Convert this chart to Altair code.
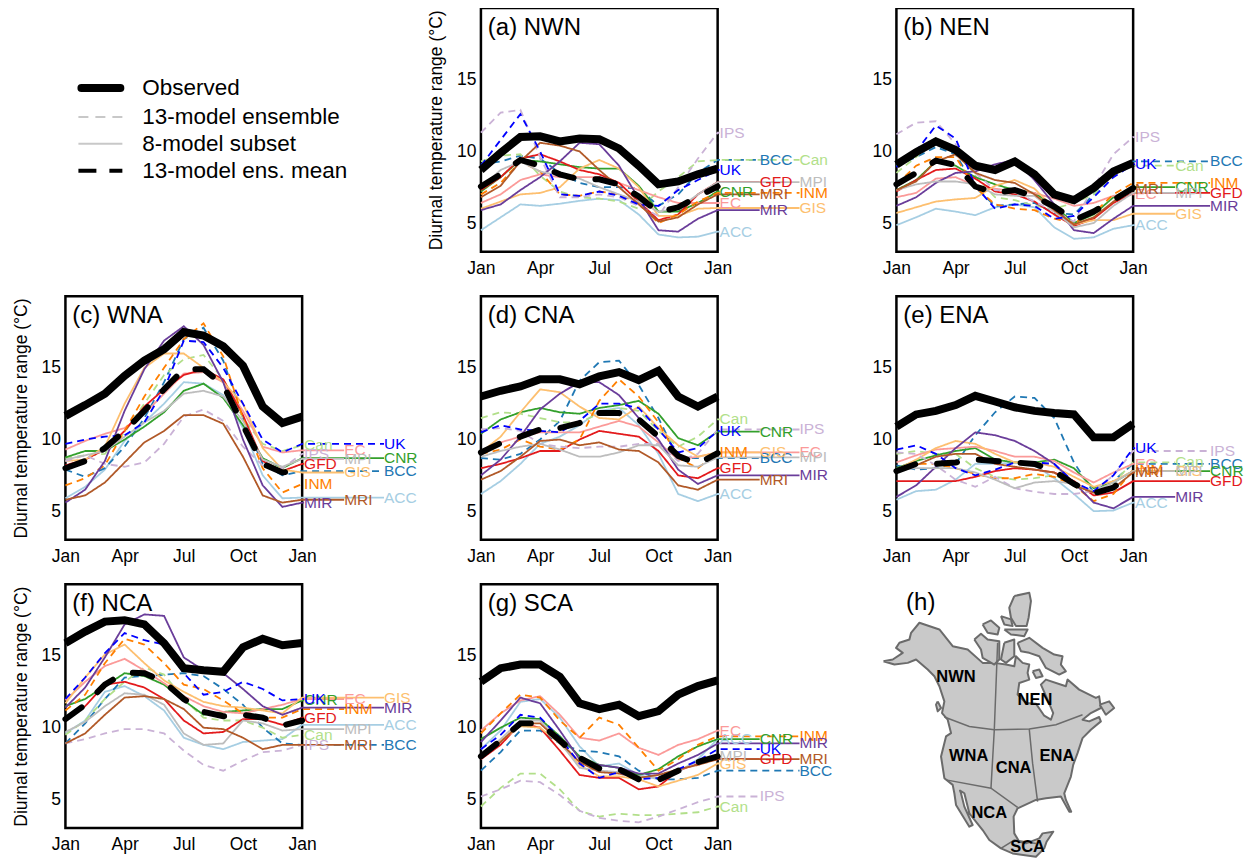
import altair as alt
import pandas as pd

MONTHS = list(range(1, 14))
MODELS = ["ACC", "BCC", "Can", "CNR", "EC", "GFD", "GIS", "INM", "IPS", "MIR", "MPI", "MRI", "UK"]
COLORS = ["#a6cee3", "#1f78b4", "#b2df8a", "#33a02c", "#fb9a99", "#e31a1c", "#fdbf6f", "#ff7f00", "#cab2d6", "#6a3d9a", "#bdbdbd", "#b15928", "#0000ff"]
DASHED = ["BCC", "Can", "INM", "IPS", "UK"]

OBS_A = [8.7, 9.9, 11.0, 11.05, 10.7, 10.9, 10.85, 10.2, 9.0, 7.7, 7.9, 8.4, 8.8]
MEAN_A = [7.55, 8.4, 9.4, 9.0, 8.4, 8.05, 8.05, 7.7, 6.85, 5.75, 6.1, 6.85, 7.55]
A = {
    "ACC": [4.5, 5.4, 6.3, 6.2, 6.35, 6.55, 6.7, 6.6, 5.6, 4.2, 4.0, 4.05, 4.4],
    "BCC": [9.1, 9.3, 9.7, 9.5, 8.5, 7.8, 7.5, 7.5, 7.4, 6.2, 7.0, 8.5, 9.4],
    "Can": [9.3, 9.7, 9.8, 8.3, 7.2, 6.8, 6.7, 6.5, 6.0, 7.2, 8.2, 9.3, 9.4],
    "CNR": [7.2, 8.2, 9.4, 9.3, 9.1, 8.9, 8.8, 8.8, 7.6, 5.8, 5.8, 6.4, 7.2],
    "EC": [6.4, 7.0, 8.0, 8.4, 8.2, 8.2, 8.2, 7.8, 7.3, 6.8, 6.4, 6.4, 6.4],
    "GFD": [7.3, 8.2, 9.5, 9.8, 9.3, 8.7, 8.4, 7.8, 6.5, 5.2, 5.6, 7.0, 7.85],
    "GIS": [6.0, 6.5, 7.0, 7.1, 7.5, 8.8, 9.4, 8.8, 7.5, 5.5, 5.5, 6.0, 6.05],
    "INM": [7.0, 7.8, 9.3, 8.6, 7.0, 6.9, 7.2, 7.0, 6.4, 5.0, 5.6, 6.5, 7.1],
    "IPS": [11.3, 12.7, 12.9, 9.6, 6.8, 6.8, 7.0, 6.8, 6.2, 5.5, 7.5, 9.5, 11.3],
    "MIR": [5.9, 6.3, 7.3, 8.2, 9.3, 10.6, 10.5, 9.0, 6.7, 4.5, 4.4, 5.3, 5.9],
    "MPI": [7.5, 8.7, 9.3, 8.6, 8.3, 8.1, 7.5, 7.0, 6.5, 5.8, 6.0, 7.0, 7.85],
    "MRI": [6.8, 7.6, 9.3, 10.6, 10.4, 10.0, 8.7, 7.5, 6.3, 5.1, 5.4, 6.3, 7.0],
    "UK": [9.0, 10.8, 12.6, 10.0, 7.0, 6.9, 7.2, 6.9, 6.3, 6.2, 7.3, 8.0, 8.7],
}
COLS_A = {"IPS": 1, "UK": 1, "CNR": 1, "EC": 1, "ACC": 1, "BCC": 2, "GFD": 2, "MRI": 2, "MIR": 2, "Can": 3, "MPI": 3, "INM": 3, "GIS": 3}

OBS_B = [9.07, 9.95, 10.7, 10.1, 9.0, 8.7, 9.3, 8.4, 7.0, 6.6, 7.45, 8.6, 9.2]
MEAN_B = [7.7, 8.5, 9.35, 9.05, 7.55, 7.1, 7.3, 6.85, 6.15, 5.2, 5.8, 6.6, 7.45]
B = {
    "ACC": [4.85, 5.4, 6.0, 5.8, 5.55, 6.1, 6.3, 6.1, 4.7, 3.9, 4.0, 4.6, 4.85],
    "BCC": [9.0, 9.6, 10.3, 9.8, 7.5, 6.2, 6.3, 6.4, 5.7, 5.6, 7.0, 8.5, 9.3],
    "Can": [8.5, 9.6, 10.9, 10.3, 8.3, 6.8, 6.6, 6.2, 6.0, 6.4, 7.0, 8.4, 9.0],
    "CNR": [7.3, 8.0, 9.3, 9.0, 8.2, 7.7, 7.3, 7.1, 6.2, 5.0, 5.6, 6.8, 7.5],
    "EC": [6.8, 7.1, 8.1, 8.2, 7.6, 7.4, 7.2, 7.1, 6.7, 6.2, 6.4, 6.9, 7.0],
    "GFD": [7.2, 8.0, 8.7, 8.8, 8.1, 7.2, 7.0, 6.5, 5.6, 4.8, 5.3, 6.4, 7.1],
    "GIS": [5.7, 6.1, 6.5, 6.65, 6.75, 7.6, 8.0, 7.4, 6.0, 4.9, 5.2, 5.2, 5.65],
    "INM": [7.7, 9.0, 9.6, 9.6, 7.5, 6.3, 6.0, 5.9, 5.3, 5.0, 5.7, 7.0, 7.8],
    "IPS": [11.2, 12.0, 12.1, 10.5, 8.5, 7.3, 7.2, 6.5, 5.8, 5.1, 7.5, 9.8, 11.0],
    "MIR": [6.2, 6.8, 7.8, 8.5, 8.6, 9.1, 9.4, 8.0, 6.3, 4.5, 4.3, 5.3, 6.2],
    "MPI": [7.3, 7.7, 7.9, 7.9, 7.7, 7.0, 6.9, 6.9, 5.8, 4.7, 5.0, 6.2, 7.1],
    "MRI": [7.3, 7.9, 9.3, 9.8, 8.5, 8.0, 7.8, 7.0, 5.9, 4.9, 5.4, 6.5, 7.4],
    "UK": [8.9, 10.0, 11.8, 10.9, 7.6, 6.0, 6.3, 6.2, 5.3, 5.5, 6.8, 8.2, 9.1],
}
COLS_B = {"IPS": 1, "UK": 1, "MRI": 1, "EC": 1, "ACC": 1, "Can": 2, "CNR": 2, "MPI": 2, "GIS": 2, "BCC": 3, "INM": 3, "GFD": 3, "MIR": 3}

OBS_C = [11.65, 12.4, 13.2, 14.45, 15.5, 16.3, 17.5, 17.25, 16.5, 15.15, 12.3, 11.15, 11.6]
MEAN_C = [8.0, 8.5, 9.4, 10.6, 12.0, 13.5, 14.9, 14.9, 13.8, 11.0, 8.3, 7.7, 7.9]
C = {
    "ACC": [5.9, 6.7, 7.9, 9.9, 11.2, 12.5, 14.0, 13.9, 13.1, 10.8, 7.5, 5.9, 5.95],
    "BCC": [7.9, 7.4, 8.0, 9.5, 11.5, 14.0, 17.0, 17.8, 15.5, 11.5, 8.3, 7.5, 7.8],
    "Can": [8.7, 8.9, 9.0, 10.5, 12.5, 14.5, 15.6, 15.9, 14.2, 11.5, 9.7, 9.2, 9.6],
    "CNR": [8.75, 9.2, 9.2, 10.0, 10.9, 11.9, 13.4, 13.9, 12.9, 11.0, 8.7, 8.0, 8.7],
    "EC": [9.3, 9.9, 10.4, 10.8, 11.8, 13.2, 14.6, 14.7, 14.0, 12.0, 9.5, 9.1, 9.25],
    "GFD": [8.2, 8.6, 9.3, 10.6, 12.3, 13.5, 14.5, 14.9, 14.2, 11.7, 8.5, 7.8, 8.3],
    "GIS": [8.5, 8.6, 9.5, 12.5, 15.0, 16.0, 16.0, 15.0, 14.0, 12.5, 9.4, 7.9, 7.7],
    "INM": [6.8, 7.3, 8.2, 10.6, 13.0, 15.0, 17.0, 18.1, 15.8, 11.5, 8.0, 6.3, 6.9],
    "IPS": [8.5, 8.9, 8.3, 8.1, 8.4, 9.7, 11.6, 12.1, 11.3, 9.5, 8.2, 8.0, 9.0],
    "MIR": [5.6, 6.5, 8.5, 12.0, 14.9, 16.9, 17.9, 16.6, 14.0, 10.0, 6.8, 5.3, 5.6],
    "MPI": [8.6, 8.9, 9.2, 10.2, 11.2, 12.0, 13.2, 13.4, 13.0, 11.3, 8.6, 8.1, 8.65],
    "MRI": [5.8, 6.1, 7.0, 8.4, 9.8, 10.6, 11.7, 11.7, 11.1, 8.8, 6.1, 5.6, 5.8],
    "UK": [9.7, 10.0, 10.2, 10.3, 11.2, 13.5, 16.9, 16.8, 15.0, 12.5, 10.0, 9.1, 9.7],
}
COLS_C = {"Can": 1, "IPS": 1, "GFD": 1, "INM": 1, "MIR": 1, "EC": 2, "MPI": 2, "GIS": 2, "MRI": 2, "UK": 3, "CNR": 3, "BCC": 3, "ACC": 3}

OBS_D = [13.0, 13.4, 13.7, 14.2, 14.2, 13.85, 14.4, 14.7, 14.15, 14.8, 13.0, 12.3, 13.0]
MEAN_D = [9.1, 9.75, 10.2, 10.7, 10.8, 11.15, 11.85, 11.85, 11.4, 10.2, 8.85, 8.3, 9.05]
D = {
    "ACC": [6.2, 7.1, 8.3, 9.7, 10.2, 11.0, 12.0, 12.2, 11.0, 9.0, 6.2, 5.7, 6.2],
    "BCC": [8.7, 8.6, 9.0, 10.0, 11.3, 14.1, 15.4, 15.5, 13.8, 11.5, 8.7, 8.7, 8.7],
    "Can": [11.5, 11.9, 11.8, 11.5, 11.2, 11.2, 11.8, 12.2, 12.0, 10.6, 9.5, 10.2, 11.4],
    "CNR": [10.4, 11.4, 11.9, 12.2, 11.9, 11.8, 12.2, 12.4, 12.7, 11.8, 10.1, 9.6, 10.55],
    "EC": [9.0, 9.8, 10.2, 10.5, 10.5, 10.5, 10.9, 11.3, 10.9, 9.8, 8.6, 8.8, 9.1],
    "GFD": [8.0, 8.3, 8.7, 9.2, 9.2, 10.0, 10.6, 10.4, 10.2, 9.2, 7.5, 7.3, 8.0],
    "GIS": [9.1, 10.2, 11.9, 13.5, 13.3, 12.3, 11.5, 11.4, 12.3, 10.8, 9.6, 8.8, 9.1],
    "INM": [9.0, 9.3, 10.0, 9.5, 9.3, 10.0, 12.7, 14.2, 13.0, 11.2, 8.7, 8.0, 9.1],
    "IPS": [10.7, 10.8, 10.6, 9.7, 9.5, 9.4, 9.5, 9.5, 9.7, 9.7, 8.5, 9.0, 10.7],
    "MIR": [7.5, 8.6, 10.2, 12.1, 13.2, 14.0, 14.0, 13.1, 11.5, 10.0, 7.9, 6.9, 7.5],
    "MPI": [8.8, 9.2, 9.5, 9.7, 9.3, 8.8, 8.8, 9.1, 9.6, 9.6, 8.2, 8.1, 8.75],
    "MRI": [7.2, 7.8, 8.8, 9.9, 10.0, 9.6, 9.8, 9.3, 9.2, 8.4, 6.8, 6.5, 7.2],
    "UK": [10.5, 11.0, 10.7, 10.6, 10.5, 11.3, 12.5, 12.5, 12.2, 10.7, 9.1, 9.4, 10.6],
}
COLS_D = {"Can": 1, "UK": 1, "INM": 1, "GFD": 1, "ACC": 1, "CNR": 2, "GIS": 2, "BCC": 2, "MRI": 2, "IPS": 3, "EC": 3, "MPI": 3, "MIR": 3}

OBS_E = [10.9, 11.75, 12.0, 12.4, 13.05, 12.65, 12.25, 12.0, 11.85, 11.75, 10.15, 10.15, 11.1]
MEAN_E = [7.8, 8.3, 8.3, 8.4, 8.6, 8.5, 8.4, 8.3, 7.8, 6.9, 6.25, 6.65, 7.7]
E = {
    "ACC": [5.8, 6.4, 6.5, 7.2, 8.3, 8.3, 8.4, 8.2, 7.3, 6.2, 5.0, 5.05, 5.6],
    "BCC": [8.2, 7.9, 8.0, 8.3, 10.3, 11.9, 13.0, 12.9, 11.5, 8.4, 6.3, 7.1, 8.3],
    "Can": [9.0, 9.2, 9.0, 9.0, 8.0, 7.4, 7.2, 7.3, 7.5, 7.0, 6.3, 7.0, 8.4],
    "CNR": [8.0, 8.5, 8.9, 9.2, 9.4, 8.6, 8.4, 8.4, 8.6, 8.0, 6.6, 7.0, 7.8],
    "EC": [8.4, 8.9, 9.3, 9.4, 9.5, 9.2, 8.8, 8.8, 8.5, 7.7, 7.0, 7.7, 8.3],
    "GFD": [7.1, 7.1, 7.1, 7.1, 7.4, 7.8, 8.0, 7.9, 7.7, 7.1, 6.1, 6.3, 7.1],
    "GIS": [7.9, 8.6, 9.4, 9.9, 9.7, 9.0, 8.4, 8.4, 8.1, 7.4, 6.7, 7.1, 7.8],
    "INM": [7.9, 8.3, 8.3, 8.0, 7.6, 7.3, 7.3, 7.6, 7.4, 6.8, 5.7, 6.2, 7.9],
    "IPS": [9.1, 9.0, 8.2, 7.2, 6.7, 7.4, 6.6, 6.35, 6.2, 6.2, 6.4, 7.5, 9.2],
    "MIR": [6.0, 6.8, 8.1, 9.4, 10.5, 10.3, 9.9, 9.2, 8.3, 7.0, 5.6, 5.2, 6.0],
    "MPI": [7.9, 8.0, 8.0, 8.0, 7.7, 7.2, 6.6, 7.0, 7.1, 6.9, 6.4, 7.0, 7.8],
    "MRI": [7.7, 8.2, 8.8, 9.0, 9.0, 8.3, 8.1, 7.9, 7.7, 6.8, 6.3, 6.6, 7.7],
    "UK": [9.3, 9.6, 9.0, 8.0, 7.5, 7.9, 8.4, 8.4, 8.3, 7.0, 6.4, 7.5, 9.4],
}
COLS_E = {"UK": 1, "EC": 1, "INM": 1, "MRI": 1, "ACC": 1, "Can": 2, "GIS": 2, "MPI": 2, "MIR": 2, "IPS": 3, "BCC": 3, "CNR": 3, "GFD": 3}

OBS_F = [15.9, 16.7, 17.4, 17.5, 17.2, 15.9, 14.15, 14.0, 13.9, 15.6, 16.2, 15.75, 15.9]
MEAN_F = [10.6, 11.6, 13.0, 13.85, 13.8, 13.2, 12.0, 11.1, 10.8, 10.9, 10.7, 10.15, 10.5]
F = {
    "ACC": [9.6, 10.5, 12.5, 12.9, 12.2, 11.2, 9.3, 8.8, 8.5, 9.0, 9.1, 9.2, 10.2],
    "BCC": [8.9, 10.3, 12.0, 13.5, 13.6, 13.7, 13.8, 13.6, 12.7, 11.6, 10.0, 8.9, 8.8],
    "Can": [9.5, 10.5, 12.0, 13.2, 14.2, 13.7, 12.0, 10.7, 10.5, 10.5, 10.0, 9.3, 9.5],
    "CNR": [11.5, 12.0, 12.9, 13.8, 13.6, 13.0, 11.9, 10.9, 11.1, 11.2, 11.3, 11.3, 11.9],
    "EC": [11.9, 13.2, 14.3, 14.8, 14.0, 13.1, 12.2, 11.5, 11.1, 11.0, 11.3, 11.6, 12.0],
    "GFD": [10.5, 11.5, 13.0, 13.2, 12.8, 12.0, 10.5, 9.6, 9.7, 10.6, 10.6, 10.2, 10.7],
    "GIS": [11.7, 13.5, 15.1, 15.8, 14.5, 13.3, 12.5, 11.8, 11.5, 11.4, 11.2, 11.0, 12.1],
    "INM": [11.2, 12.3, 14.5, 16.2, 15.8, 14.5, 13.0, 12.7, 11.9, 11.0, 10.7, 10.7, 11.3],
    "IPS": [8.9, 9.2, 9.6, 9.9, 9.9, 9.6, 8.4, 7.4, 7.0, 7.7, 8.3, 8.4, 8.8],
    "MIR": [11.4, 12.8, 14.9, 17.2, 17.9, 17.8, 14.9, 14.0, 13.8, 12.7, 11.5, 10.9, 11.4],
    "MPI": [9.7, 10.4, 11.5, 12.4, 12.3, 11.6, 9.6, 8.8, 8.9, 10.5, 10.3, 9.8, 9.9],
    "MRI": [8.9, 9.6, 10.9, 12.1, 12.2, 12.0, 11.3, 10.0, 9.9, 9.3, 8.5, 8.8, 8.8],
    "UK": [12.0, 13.5, 15.2, 16.6, 16.1, 15.8, 13.8, 12.3, 12.5, 13.2, 12.7, 11.9, 12.0],
}
COLS_F = {"UK": 1, "CNR": 1, "GFD": 1, "Can": 1, "IPS": 1, "EC": 2, "INM": 2, "MPI": 2, "MRI": 2, "GIS": 3, "MIR": 3, "ACC": 3, "BCC": 3}

OBS_G = [13.2, 14.15, 14.4, 14.4, 13.55, 11.7, 11.3, 11.6, 10.8, 11.15, 12.3, 12.9, 13.3]
MEAN_G = [8.0, 9.1, 10.3, 10.3, 9.1, 7.9, 7.15, 7.1, 6.4, 6.35, 7.0, 7.6, 8.0]
G = {
    "ACC": [8.5, 9.8, 11.8, 12.0, 10.7, 8.7, 7.3, 7.5, 6.7, 6.4, 6.9, 7.8, 9.2],
    "BCC": [7.0, 8.3, 9.8, 9.8, 8.9, 8.4, 8.3, 8.0, 7.0, 6.4, 6.4, 6.5, 7.0],
    "Can": [4.5, 5.8, 6.8, 6.8, 5.7, 4.2, 3.8, 4.0, 3.9, 3.9, 4.0, 4.1, 4.5],
    "CNR": [9.2, 10.0, 10.7, 10.6, 9.4, 8.0, 7.4, 7.2, 6.7, 7.1, 8.0, 8.7, 9.2],
    "EC": [9.8, 11.0, 11.9, 12.2, 10.9, 9.3, 9.1, 9.6, 8.6, 8.1, 8.8, 9.2, 9.8],
    "GFD": [7.8, 8.8, 10.3, 10.0, 8.4, 6.7, 6.5, 6.5, 5.7, 5.9, 7.0, 7.5, 7.8],
    "GIS": [8.0, 9.1, 10.1, 10.0, 8.9, 7.4, 6.6, 6.6, 6.4, 5.9, 6.3, 6.7, 7.5],
    "INM": [9.6, 11.0, 12.3, 12.1, 10.5, 9.3, 10.7, 10.2, 8.6, 7.0, 7.8, 8.8, 9.4],
    "IPS": [5.2, 5.7, 6.3, 6.2, 5.3, 4.2, 3.7, 3.5, 3.4, 3.8, 4.3, 4.8, 5.2],
    "MIR": [9.0, 10.5, 12.1, 11.7, 9.8, 7.8, 7.4, 7.2, 6.8, 6.8, 7.5, 8.1, 8.9],
    "MPI": [8.1, 9.2, 10.5, 10.5, 9.0, 7.2, 7.0, 6.9, 6.6, 6.5, 7.0, 7.6, 8.0],
    "MRI": [7.9, 9.0, 10.3, 10.3, 9.0, 7.6, 6.9, 6.8, 6.5, 6.7, 7.1, 7.4, 7.8],
    "UK": [8.5, 9.5, 10.9, 10.7, 9.3, 7.5, 6.5, 6.9, 6.4, 6.5, 7.1, 7.7, 8.5],
}
COLS_G = {"EC": 1, "ACC": 1, "MPI": 1, "GIS": 1, "Can": 1, "CNR": 2, "UK": 2, "GFD": 2, "IPS": 2, "INM": 3, "MIR": 3, "MRI": 3, "BCC": 3}

# label column offsets, in months past the right edge
COL_OFFSET = {1: 0.1, 2: 2.13, 3: 4.15}
COL_OFFSET_RIGHTMOST = {1: 0.1, 2: 2.13, 3: 3.9}

LEGEND_NAMES = ["Observed", "13-model ensemble", "8-model subset", "13-model ens. mean"]

OUTLINE = [(42,245),(75,255),(115,250),(140,240),(175,270),(195,290),(210,320),(225,365),(218,400),(235,420),(245,460),
 (230,470),(215,530),(225,595),(250,615),(255,640),(260,675),(300,740),(310,735),(285,680),(275,640),(272,632),(285,640),
 (300,700),(340,750),(360,780),(395,805),(430,820),(500,830),(525,805),(532,785),(552,755),(520,760),(510,775),(470,790),
 (450,785),(435,760),(433,710),(445,685),(500,660),(530,655),(575,650),
 (600,695),(606,695),(590,660),(585,640),(605,590),(612,555),(625,520),(640,475),(665,450),(695,425),(690,412),(660,425),
 (640,420),(665,400),(695,385),(690,350),(680,355),(630,330),(595,300),(590,320),(530,300),(515,315),(535,360),(552,400),
 (545,420),(525,408),(500,372),(470,370),(445,345),(450,310),(480,300),(475,280),(480,255),(460,250),(440,230),(435,260),
 (410,255),(375,250),(340,250),(295,210),(250,200),(210,150),(150,130),(125,160),(120,180),(90,190),(80,205),(100,220),
 (70,240),(42,245)]
ISLES = [
 [(435,50),(480,40),(485,65),(478,115),(472,140),(440,140),(425,115),(420,85),(435,50)],
 [(405,150),(475,150),(465,170),(425,165),(405,150)],
 [(340,135),(365,123),(390,145),(385,165),(355,160),(340,135)],
 [(395,110),(425,120),(430,140),(405,135),(395,110)],
 [(315,180),(335,163),(355,180),(390,185),(390,240),(375,255),(340,235),(335,210),(315,180)],
 [(405,190),(435,180),(435,230),(410,250),(395,240),(405,190)],
 [(445,190),(480,175),(520,205),(555,225),(580,230),(575,255),(590,275),(570,285),(530,265),(510,230),(480,220),(455,215),(445,190)],
 [(490,275),(510,270),(520,290),(500,295),(490,275)],
 [(205,365),(215,385),(205,395),(200,375),(205,365)],
 [(692,375),(720,365),(735,385),(710,405),(692,375)],
]
REGION_LINES = [
 [(385,190),(380,320),(375,450),(365,625)],
 [(225,412),(300,440),(375,450),(480,448),(560,435),(640,405)],
 [(480,448),(490,550),(505,665)],
 [(230,600),(365,625),(445,682)],
 [(395,805),(435,780),(500,790)],
]
REGION_NAMES = ["NWN", "NEN", "WNA", "CNA", "ENA", "NCA", "SCA"]
REGION_X = [260, 497, 298, 433, 563, 360, 475]
REGION_Y = [292, 360, 530, 565, 530, 700, 800]

XS = alt.Scale(domain=[1, 13], nice=False, zero=False)
YS = alt.Scale(domain=[3, 20], nice=False, zero=False)
W, H = 237, 244
FS = 17.5


def panel(title, series, cols, obs, mean, ytitle, offsets=COL_OFFSET):
    rows, labs = [], []
    for m in MODELS:
        vals = series[m]
        end = 13 + offsets[cols[m]]
        for k, v in zip(MONTHS, vals):
            rows.append({"x": k, "y": v, "model": m})
        rows.append({"x": end, "y": vals[-1], "model": m})
        labs.append({"x": end, "y": vals[-1], "model": m})
    color = alt.Color("model:N", scale=alt.Scale(domain=MODELS, range=COLORS), legend=None)
    xaxis = alt.Axis(values=[1, 4, 7, 10, 13], title=None, grid=False, domain=False, ticks=False,
                     labelExpr="['Jan','Apr','Jul','Oct','Jan'][(datum.value-1)/3]", labelFontSize=FS,
                     labelPadding=8, labelAngle=0, labelColor="black", labelFlush=False, labelOverlap=False, labelBound=False)
    yargs = dict(values=[5, 10, 15], grid=False, domain=False, ticks=False, labelFontSize=FS, labelPadding=5,
                 labelColor="black", labelFlush=False)
    if ytitle:
        yaxis = alt.Axis(title="Diurnal temperature range (°C)", titleFontSize=17.5, titleFontWeight="normal",
                         titleColor="black", titlePadding=11, **yargs)
    else:
        yaxis = alt.Axis(title=None, **yargs)
    x = alt.X("x:Q", scale=XS, axis=xaxis)
    y = alt.Y("y:Q", scale=YS, axis=yaxis)
    df = pd.DataFrame(rows)
    lines = alt.Chart(df).mark_line(strokeWidth=1.8).encode(
        x=x, y=y, color=color, detail="model:N", order="x:Q",
        strokeDash=alt.StrokeDash("model:N", legend=None, scale=alt.Scale(
            domain=MODELS, range=[[7, 5] if m in DASHED else [1, 0] for m in MODELS])))
    tx = alt.Chart(pd.DataFrame(labs)).mark_text(align="left", baseline="middle", fontSize=15.5).encode(
        x=x, y=y, text="model:N", color=color)
    mdf = pd.DataFrame({"x": MONTHS, "y": mean})
    odf = pd.DataFrame({"x": MONTHS, "y": obs})
    ml = alt.Chart(mdf).mark_line(color="black", strokeWidth=6, strokeDash=[20, 22], strokeCap="round").encode(x=x, y=y)
    ol = alt.Chart(odf).mark_line(color="black", strokeWidth=8, strokeJoin="miter").encode(x=x, y=y)
    t = alt.Chart(pd.DataFrame({"x": [1.35], "y": [18.6], "t": [title]})).mark_text(
        align="left", baseline="middle", fontSize=24, color="black").encode(x=x, y=y, text="t:N")
    return alt.layer(lines, tx, ml, ol, t).properties(width=W, height=H)


def legend_panel():
    sx = alt.Scale(domain=[0, 237], nice=False, zero=False)
    sy = alt.Scale(domain=[0, 244], nice=False, zero=False, reverse=True)
    ys = [80, 109, 136, 163]
    X = alt.X("x:Q", scale=sx, axis=None)
    Y = alt.Y("y:Q", scale=sy, axis=None)
    def seg(i, x0, x1, **kw):
        return alt.Chart(pd.DataFrame({"x": [x0, x1], "y": [ys[i], ys[i]]})).mark_line(**kw).encode(x=X, y=Y)
    parts = [
        seg(0, 16, 55, color="black", strokeWidth=8, strokeCap="round"),
        seg(1, 13, 57, color="#c8c8c8", strokeWidth=2, strokeDash=[10, 7]),
        seg(2, 13, 57, color="#c8c8c8", strokeWidth=2),
        seg(3, 13, 57, color="black", strokeWidth=4, strokeDash=[18, 13]),
    ]
    txt = alt.Chart(pd.DataFrame({"x": [77] * 4, "y": ys, "t": LEGEND_NAMES})).mark_text(
        align="left", baseline="middle", fontSize=22.5, color="black").encode(x=X, y=Y, text="t:N")
    return alt.layer(*parts, txt).properties(width=W, height=H, view=alt.ViewBackground(stroke="transparent"))


def map_panel():
    sx = alt.Scale(domain=[81, 792], nice=False, zero=False)
    sy = alt.Scale(domain=[15, 744], nice=False, zero=False, reverse=True)
    X = alt.X("x:Q", scale=sx, axis=None)
    Y = alt.Y("y:Q", scale=sy, axis=None)
    def frame(polys):
        r = []
        for i, p in enumerate(polys):
            for j, (a, b) in enumerate(p):
                r.append({"x": a, "y": b, "g": i, "o": j})
        return pd.DataFrame(r)
    land = alt.Chart(frame([OUTLINE] + ISLES)).mark_line(
        fill="#c9c9c9", stroke="#6b6b6b", strokeWidth=2, strokeJoin="round").encode(x=X, y=Y, detail="g:N", order="o:Q")
    lines = alt.Chart(frame(REGION_LINES)).mark_line(color="#6b6b6b", strokeWidth=1.5).encode(
        x=X, y=Y, detail="g:N", order="o:Q")
    names = alt.Chart(pd.DataFrame({"x": REGION_X, "y": REGION_Y, "t": REGION_NAMES})).mark_text(
        fontSize=16.5, fontWeight="bold", color="black", baseline="middle", align="center").encode(x=X, y=Y, text="t:N")
    h = alt.Chart(pd.DataFrame({"x": [110], "y": [70], "t": ["(h)"]})).mark_text(
        fontSize=24, color="black", baseline="middle", align="left").encode(x=X, y=Y, text="t:N")
    return alt.layer(land, lines, names, h).properties(
        width=W, height=H, view=alt.ViewBackground(stroke="transparent"))


cells = [
    legend_panel(),
    panel("(a) NWN", A, COLS_A, OBS_A, MEAN_A, True),
    panel("(b) NEN", B, COLS_B, OBS_B, MEAN_B, False, COL_OFFSET_RIGHTMOST),
    panel("(c) WNA", C, COLS_C, OBS_C, MEAN_C, True),
    panel("(d) CNA", D, COLS_D, OBS_D, MEAN_D, False),
    panel("(e) ENA", E, COLS_E, OBS_E, MEAN_E, False, COL_OFFSET_RIGHTMOST),
    panel("(f) NCA", F, COLS_F, OBS_F, MEAN_F, True),
    panel("(g) SCA", G, COLS_G, OBS_G, MEAN_G, False),
    map_panel(),
]

chart = alt.concat(*cells, columns=3, bounds="flush",
                   spacing=alt.RowColnumber(row=44.5, column=179)).properties(
    padding={"left": 2.5, "top": -2.5, "right": 0, "bottom": 0}
).resolve_scale(color="independent", strokeDash="independent").configure(
    font="Liberation Sans"
).configure_view(stroke="black", strokeWidth=2.5)

chart.save("out.html", embed_options={"renderer": "svg", "actions": False})
